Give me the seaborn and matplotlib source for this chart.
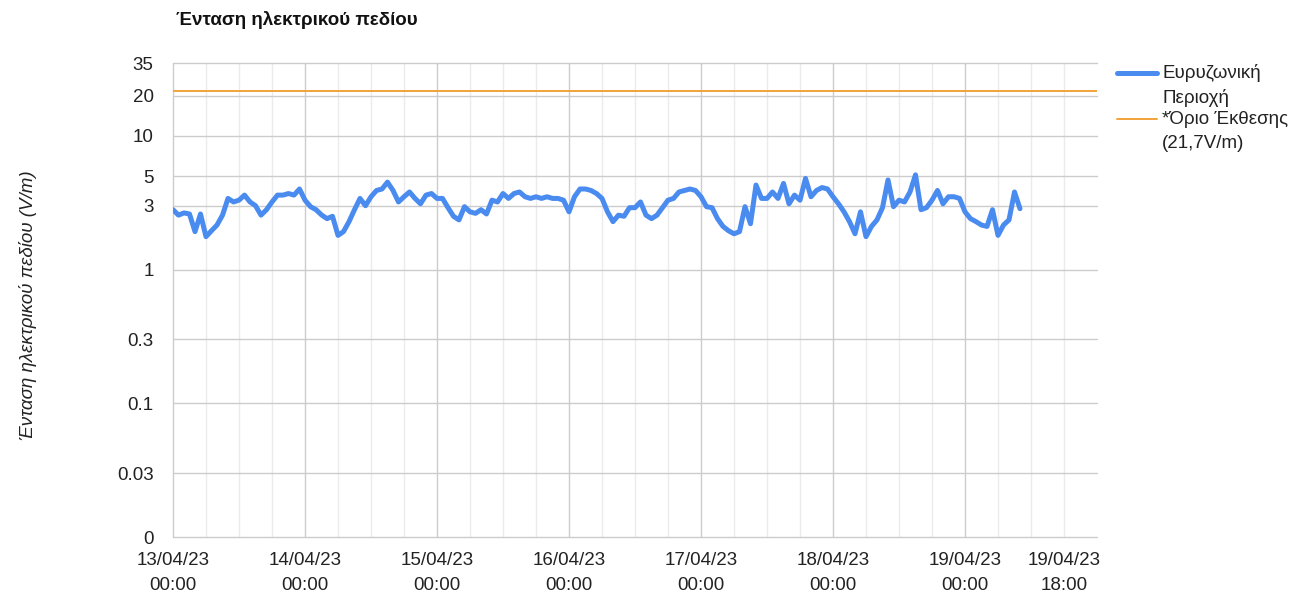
import pandas as pd
import matplotlib
matplotlib.use("Agg")
import matplotlib.pyplot as plt
import matplotlib.dates as mdates
from matplotlib.lines import Line2D
from matplotlib.ticker import NullLocator
import seaborn as sns

# Hourly field strength readings (V/m), starting 13/04/23 00:00
START = "2023-04-13 00:00"
field_vm = [
    2.8, 2.55, 2.65, 2.6, 1.92, 2.6, 1.76, 1.95, 2.15, 2.55,
    3.4, 3.2, 3.3, 3.6, 3.2, 3.0, 2.55, 2.8, 3.2, 3.6,
    3.6, 3.7, 3.6, 4.0, 3.3, 2.95, 2.8, 2.56, 2.4, 2.5,
    1.8, 1.92, 2.28, 2.8, 3.4, 3.0, 3.5, 3.9, 4.0, 4.5,
    3.9, 3.2, 3.5, 3.8, 3.4, 3.1, 3.6, 3.7, 3.4, 3.4,
    2.9, 2.5, 2.35, 2.95, 2.7, 2.63, 2.8, 2.6, 3.3, 3.2,
    3.7, 3.4, 3.7, 3.8, 3.5, 3.4, 3.5, 3.4, 3.5, 3.4,
    3.4, 3.3, 2.7, 3.5, 4.0, 4.0, 3.9, 3.7, 3.4, 2.7,
    2.28, 2.55, 2.5, 2.9, 2.9, 3.2, 2.55, 2.4, 2.55, 2.9,
    3.3, 3.4, 3.8, 3.9, 4.0, 3.9, 3.5, 2.95, 2.9, 2.4,
    2.1, 1.95, 1.85, 1.92, 2.95, 2.2, 4.28, 3.4, 3.4, 3.8,
    3.4, 4.4, 3.1, 3.6, 3.3, 4.8, 3.5, 3.9, 4.1, 4.0,
    3.5, 3.1, 2.7, 2.28, 1.85, 2.7, 1.76, 2.1, 2.35, 2.9,
    4.67, 2.95, 3.3, 3.2, 3.8, 5.1, 2.8, 2.9, 3.3, 3.9,
    3.1, 3.5, 3.5, 3.4, 2.7, 2.4, 2.28, 2.15, 2.1, 2.8,
    1.8, 2.15, 2.35, 3.8, 2.85,
]
LIMIT = 21.7

series_names = ["Ευρυζωνική\nΠεριοχή", "*Όριο Έκθεσης\n(21,7V/m)"]
title_text = "Ένταση ηλεκτρικού πεδίου"
y_label_text = "Ένταση ηλεκτρικού πεδίου (V/m)"

y_ticks = [0.01, 0.03, 0.1, 0.3, 1, 3, 5, 10, 20, 35]
y_tick_labels = ["0", "0.03", "0.1", "0.3", "1", "3", "5", "10", "20", "35"]

x_tick_times = [
    "2023-04-13 00:00", "2023-04-14 00:00", "2023-04-15 00:00", "2023-04-16 00:00",
    "2023-04-17 00:00", "2023-04-18 00:00", "2023-04-19 00:00", "2023-04-19 18:00",
]
x_tick_labels = [
    "13/04/23\n00:00", "14/04/23\n00:00", "15/04/23\n00:00", "16/04/23\n00:00",
    "17/04/23\n00:00", "18/04/23\n00:00", "19/04/23\n00:00", "19/04/23\n18:00",
]

BLUE = "#4a8bf0"
ORANGE = "#f2a23a"
GRID_MAJOR = "#cccccc"
GRID_MINOR = "#ebebeb"
TEXT = "#222222"

df = pd.DataFrame({
    "time": pd.date_range(START, periods=len(field_vm), freq="h"),
    "value": field_vm,
})

sns.set_theme(style="white")
plt.rcParams["font.family"] = ["Liberation Sans", "DejaVu Sans"]

W, H = 1294, 594
fig = plt.figure(figsize=(W / 100, H / 100), dpi=100)
ax = fig.add_axes([173 / W, 57 / H, 924 / W, 474 / H])

ax.set_yscale("log")
ax.set_ylim(0.01, 35)
x_start = pd.Timestamp("2023-04-13 00:00")
x_end = pd.Timestamp("2023-04-20 00:00")
ax.set_xlim(mdates.date2num(x_start), mdates.date2num(x_end))

# Vertical grid: darker at midnight, lighter every 6 hours
for t in pd.date_range(x_start, "2023-04-19 18:00", freq="6h"):
    ax.axvline(mdates.date2num(t), color=GRID_MAJOR if t.hour == 0 else GRID_MINOR,
               lw=1, zorder=0, clip_on=False)
# Horizontal grid at every labelled value
for v in y_ticks:
    ax.axhline(v, color=GRID_MAJOR, lw=1, zorder=0.5, clip_on=False)

ax.axhline(LIMIT, color=ORANGE, lw=1.4, zorder=2)
sns.lineplot(data=df, x="time", y="value", color=BLUE, lw=3.6, ax=ax, zorder=3)

for s in ax.spines.values():
    s.set_visible(False)

ax.set_yticks(y_ticks)
ax.set_yticklabels(y_tick_labels)
ax.yaxis.set_minor_locator(NullLocator())
ax.set_xticks([mdates.date2num(pd.Timestamp(t)) for t in x_tick_times])
ax.set_xticklabels(x_tick_labels, linespacing=1.6)
ax.xaxis.set_minor_locator(NullLocator())
ax.tick_params(axis="both", length=0, labelsize=13.5, colors=TEXT)
ax.tick_params(axis="y", pad=14)
ax.tick_params(axis="x", pad=11)

ax.set_xlabel("")
ax.set_ylabel(y_label_text, fontsize=13.5, style="italic", color=TEXT)
ax.yaxis.set_label_coords((37 - 173) / 924, 0.49)

fig.text(176 / W, 1 - 20 / H, title_text, fontsize=13.5, fontweight="bold",
         color="#111111", ha="left", va="center")

# Legend on the right: line sample aligned with the first text line
legend_rows = [(BLUE, 3.6, 73, series_names[0]), (ORANGE, 1.4, 119, series_names[1])]
for color, lw, y_px, name in legend_rows:
    fig.add_artist(Line2D([1117 / W, 1157 / W], [1 - y_px / H] * 2,
                          color=color, lw=lw, transform=fig.transFigure))
    for i, part in enumerate(name.split("\n")):
        fig.text(1162 / W, 1 - (y_px + 25 * i) / H, part, fontsize=13.5,
                 color=TEXT, ha="left", va="center")

fig.savefig("out.png", dpi=100)
